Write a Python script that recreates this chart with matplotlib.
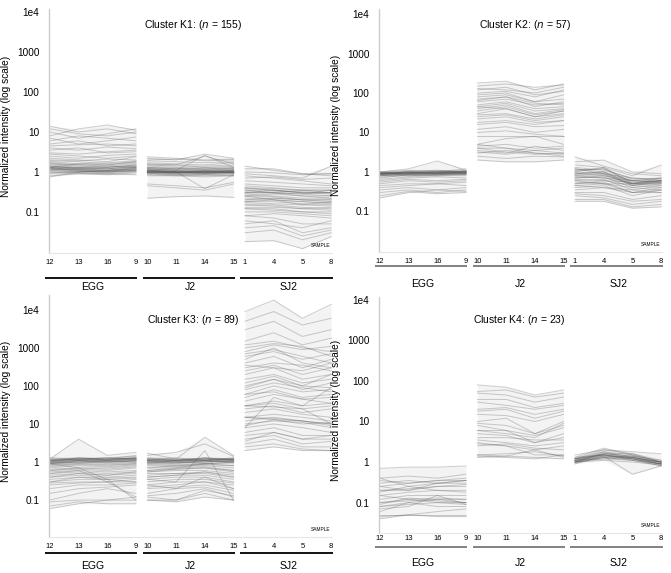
import numpy as np
import matplotlib
matplotlib.use("Agg")
import matplotlib.pyplot as plt

plt.rcParams['font.family'] = ['Liberation Sans', 'DejaVu Sans']

groups = ["EGG", "J2", "SJ2"]
sampleLabels = [["12", "13", "16", "9"], ["10", "11", "14", "15"], ["1", "4", "5", "8"]]

yTicks = [0.1, 1, 10, 100, 1000, 10000]
yTickLabels = ["0.1", "1", "10", "100", "1000", "1e4"]

clusterNames = ["K1", "K2", "K3", "K4"]
clusterSizes = [155, 57, 89, 23]

# each row: 12, 13, 16, 9 | 10, 11, 14, 15 | 1, 4, 5, 8
k1 = [
    [14, 10, 12, 9, 2.4, 2.2, 2.0, 2.1, 1.4, 1.1, 0.9, 0.8],
    [8, 12, 15, 11, 2.2, 2.0, 2.8, 2.2, 1.2, 1.2, 0.9, 0.9],
    [10, 7, 9, 12, 1.9, 1.8, 1.7, 1.8, 0.9, 0.8, 0.7, 1.4],
    [12, 9, 8, 10, 2.0, 2.1, 1.9, 2.0, 1.0, 0.95, 0.85, 0.9],
    [6, 8, 7, 6, 1.6, 1.5, 2.5, 1.6, 0.8, 0.7, 0.6, 0.5],
    [7, 5, 6, 7.5, 1.7, 1.6, 1.5, 1.7, 0.7, 0.75, 0.65, 0.7],
    [5, 6, 4.5, 5, 1.5, 1.4, 1.4, 1.5, 0.6, 0.55, 0.5, 0.45],
    [4, 3.5, 4.2, 3.8, 1.4, 1.3, 1.2, 1.3, 0.5, 0.45, 0.4, 0.4],
    [3.5, 4, 3, 3.2, 1.3, 1.2, 1.3, 1.2, 0.45, 0.4, 0.35, 0.35],
    [3, 2.8, 3.2, 3.5, 1.25, 1.2, 1.1, 1.2, 0.4, 0.38, 0.35, 0.3],
    [2.5, 2.2, 2.6, 2.8, 1.2, 1.1, 1.15, 1.1, 0.38, 0.35, 0.3, 0.3],
    [2.2, 2.0, 1.8, 2.4, 1.15, 1.1, 1.0, 1.1, 0.35, 0.33, 0.3, 0.28],
    [2.0, 1.9, 2.1, 2.0, 1.1, 1.05, 1.0, 1.05, 0.32, 0.3, 0.28, 0.25],
    [1.8, 1.6, 1.7, 1.9, 1.1, 1.0, 1.05, 1.0, 0.3, 0.3, 0.25, 0.25],
    [1.7, 1.5, 1.4, 1.6, 1.05, 1.0, 0.95, 1.0, 0.28, 0.25, 0.22, 0.22],
    [1.6, 1.4, 1.3, 1.5, 1.0, 0.95, 1.0, 1.0, 0.25, 0.24, 0.2, 0.2],
    [1.5, 1.3, 1.2, 1.4, 1.0, 1.0, 0.9, 0.95, 0.22, 0.22, 0.2, 0.18],
    [1.4, 1.2, 1.1, 1.3, 1.0, 0.95, 0.9, 1.0, 0.2, 0.2, 0.18, 0.17],
    [1.3, 1.1, 1.05, 1.2, 0.95, 0.9, 0.95, 0.95, 0.18, 0.18, 0.16, 0.15],
    [1.2, 1.05, 1.0, 1.1, 0.95, 0.9, 0.85, 0.9, 0.17, 0.16, 0.15, 0.14],
    [1.1, 1.0, 0.95, 1.05, 0.9, 0.85, 0.9, 0.9, 0.15, 0.15, 0.13, 0.12],
    [1.0, 0.95, 0.9, 1.0, 0.9, 0.85, 0.8, 0.85, 0.13, 0.13, 0.12, 0.11],
    [0.9, 0.9, 0.85, 0.95, 0.85, 0.8, 0.85, 0.8, 0.12, 0.11, 0.1, 0.1],
    [0.8, 0.9, 0.9, 0.85, 0.8, 0.8, 0.75, 0.8, 0.1, 0.1, 0.09, 0.08],
    [0.75, 1.0, 1.1, 1.2, 0.5, 0.45, 0.4, 0.55, 0.08, 0.09, 0.08, 0.07],
    [1.3, 1.6, 1.5, 1.8, 0.45, 0.4, 0.35, 0.5, 0.06, 0.05, 0.04, 0.06],
    [1.25, 1.3, 1.4, 1.3, 0.22, 0.24, 0.25, 0.23, 0.05, 0.06, 0.03, 0.04],
    [1.15, 1.2, 1.3, 1.5, 1.1, 1.0, 0.38, 0.85, 0.04, 0.045, 0.025, 0.035],
    [1.35, 1.25, 1.2, 1.35, 1.2, 1.1, 2.6, 1.3, 0.03, 0.035, 0.02, 0.03],
    [1.2, 1.15, 1.1, 1.25, 1.05, 1.0, 1.0, 1.0, 0.018, 0.019, 0.012, 0.024],
    [1.3, 1.2, 1.2, 1.3, 1.05, 1.0, 1.05, 1.05, 0.3, 0.35, 0.3, 0.3],
    [1.25, 1.15, 1.1, 1.2, 1.0, 1.0, 1.0, 1.0, 0.35, 0.3, 0.28, 0.35],
    [1.2, 1.1, 1.05, 1.15, 1.0, 0.95, 1.0, 1.0, 0.25, 0.28, 0.25, 0.22],
    [1.1, 1.05, 1.0, 1.1, 1.0, 1.0, 0.95, 1.0, 0.2, 0.22, 0.2, 0.2],
    [1.4, 1.3, 1.3, 1.4, 1.1, 1.05, 1.1, 1.05, 0.15, 0.14, 0.12, 0.13],
    [1.6, 1.5, 1.5, 1.7, 1.05, 1.0, 1.0, 1.1, 0.12, 0.12, 0.1, 0.09],
    [1.0, 1.0, 1.05, 1.1, 0.95, 0.95, 1.0, 0.95, 0.4, 0.35, 0.32, 0.3],
    [0.95, 1.0, 1.0, 1.05, 1.0, 1.0, 1.05, 1.0, 0.3, 0.3, 0.35, 0.35],
    [2.8, 2.5, 2.2, 2.5, 1.3, 1.25, 1.2, 1.25, 0.25, 0.2, 0.15, 0.18],
    [1.9, 1.8, 1.6, 1.8, 1.2, 1.15, 1.1, 1.15, 0.18, 0.2, 0.18, 0.16],
    [4.5, 4.8, 5, 4.5, 1.5, 1.5, 1.3, 1.4, 0.08, 0.07, 0.05, 0.05],
]

k2 = [
    [0.9, 1.0, 1.0, 1.1, 180, 200, 120, 170, 2.4, 1.4, 0.9, 0.8],
    [1.0, 1.2, 1.9, 1.1, 150, 170, 140, 160, 1.8, 2.0, 1.0, 0.9],
    [0.95, 1.0, 1.1, 1.0, 120, 140, 90, 110, 1.5, 1.3, 0.8, 1.5],
    [0.9, 0.95, 1.0, 1.05, 100, 110, 80, 120, 1.3, 1.1, 0.7, 0.6],
    [0.85, 0.9, 0.95, 1.0, 80, 90, 60, 70, 1.2, 1.0, 0.6, 0.7],
    [0.9, 1.0, 0.9, 0.95, 70, 80, 45, 60, 1.1, 1.2, 0.55, 0.6],
    [0.8, 0.85, 0.9, 0.9, 60, 70, 50, 55, 1.0, 0.9, 0.6, 0.55],
    [0.95, 0.9, 0.95, 1.0, 50, 60, 40, 45, 0.9, 1.0, 0.5, 0.6],
    [0.85, 0.95, 1.0, 0.9, 45, 55, 35, 40, 0.95, 0.8, 0.5, 0.5],
    [0.8, 0.9, 0.85, 0.95, 40, 50, 30, 38, 0.85, 0.9, 0.45, 0.55],
    [0.9, 0.9, 0.9, 1.0, 35, 45, 28, 35, 0.8, 0.7, 0.5, 0.45],
    [0.75, 0.8, 0.85, 0.9, 30, 40, 25, 30, 0.7, 0.75, 0.4, 0.5],
    [0.7, 0.85, 0.8, 0.85, 28, 30, 22, 28, 0.65, 0.6, 0.45, 0.4],
    [0.65, 0.75, 0.8, 0.8, 25, 28, 20, 25, 0.6, 0.65, 0.35, 0.45],
    [0.6, 0.7, 0.75, 0.7, 18, 20, 16, 20, 0.55, 0.5, 0.4, 0.35],
    [0.55, 0.65, 0.6, 0.65, 16, 18, 14, 15, 0.5, 0.55, 0.3, 0.4],
    [0.5, 0.6, 0.55, 0.6, 12, 14, 10, 12, 0.45, 0.4, 0.35, 0.3],
    [0.45, 0.5, 0.5, 0.55, 10, 11, 9, 8, 0.4, 0.45, 0.25, 0.35],
    [0.4, 0.45, 0.5, 0.45, 8, 8, 8, 8, 0.35, 0.4, 0.3, 0.3],
    [0.35, 0.4, 0.35, 0.4, 5, 7, 8, 5, 0.3, 0.3, 0.2, 0.25],
    [0.3, 0.35, 0.3, 0.35, 4.5, 5, 4, 4.5, 0.28, 0.25, 0.18, 0.2],
    [0.25, 0.32, 0.28, 0.3, 4, 4, 3.5, 3, 0.25, 0.22, 0.15, 0.18],
    [0.22, 0.3, 0.35, 0.32, 3.5, 3, 4.5, 3.5, 0.2, 0.2, 0.13, 0.15],
    [1.0, 1.1, 1.0, 1.2, 3, 3.5, 3, 2.8, 0.18, 0.18, 0.12, 0.13],
    [0.95, 1.05, 1.1, 1.0, 2.5, 2.2, 2.5, 2.4, 1.0, 1.3, 0.5, 0.7],
    [0.9, 0.95, 1.0, 0.95, 2.0, 1.8, 1.8, 2.0, 0.9, 1.0, 0.45, 0.6],
    [0.85, 1.0, 0.95, 1.0, 5, 4, 3, 2.5, 0.7, 0.8, 0.6, 0.6],
    [0.9, 0.85, 0.9, 0.9, 3.2, 2.8, 3.5, 4, 0.6, 0.5, 0.5, 0.55],
    [0.8, 0.9, 0.9, 0.85, 45, 40, 25, 35, 0.5, 0.6, 0.55, 0.5],
    [0.95, 0.9, 1.0, 1.0, 65, 80, 55, 50, 1.2, 0.9, 0.7, 0.65],
    [0.85, 0.8, 0.85, 0.9, 90, 100, 60, 90, 0.75, 0.7, 0.6, 0.55],
    [0.9, 0.95, 0.9, 0.95, 22, 25, 18, 20, 0.45, 0.5, 0.3, 0.35],
    [1.0, 0.95, 1.0, 1.05, 4, 3.2, 2.8, 3.0, 1.1, 1.2, 0.65, 0.7],
    [0.95, 1.0, 0.95, 1.0, 130, 120, 100, 140, 0.8, 0.85, 0.5, 0.6],
]

k3 = [
    [1.2, 4.0, 1.5, 1.8, 1.7, 1.2, 4.5, 1.5, 9000, 18000, 6000, 14000],
    [1.0, 1.3, 1.2, 1.5, 1.5, 1.8, 3.0, 1.4, 5000, 9000, 4000, 6000],
    [1.1, 1.2, 1.3, 1.4, 1.2, 1.1, 1.3, 1.2, 1500, 2500, 1200, 1800],
    [1.0, 1.1, 1.2, 1.2, 1.1, 1.0, 1.2, 1.1, 1200, 1500, 1000, 800],
    [0.9, 1.1, 1.0, 1.1, 1.0, 1.1, 1.1, 1.0, 800, 1200, 900, 1100],
    [1.0, 1.0, 1.1, 1.0, 1.1, 1.0, 1.0, 1.2, 600, 800, 500, 700],
    [0.95, 1.05, 1.0, 1.1, 1.0, 0.95, 1.1, 1.0, 500, 1000, 400, 300],
    [0.9, 1.0, 0.95, 1.0, 0.95, 1.0, 0.9, 1.0, 400, 600, 300, 500],
    [0.85, 0.9, 0.9, 0.95, 0.9, 0.85, 0.9, 0.9, 300, 400, 350, 250],
    [0.8, 0.9, 0.85, 0.9, 0.85, 0.8, 0.85, 0.8, 250, 350, 200, 300],
    [0.7, 0.8, 0.75, 0.85, 0.8, 0.75, 0.8, 0.7, 200, 300, 150, 200],
    [0.65, 0.7, 0.7, 0.8, 0.7, 0.7, 0.75, 0.6, 150, 200, 120, 150],
    [0.6, 0.65, 0.6, 0.7, 0.6, 0.65, 0.7, 0.55, 120, 180, 100, 90],
    [0.55, 0.6, 0.55, 0.6, 0.55, 0.6, 0.6, 0.5, 100, 150, 80, 120],
    [0.5, 0.55, 0.5, 0.55, 0.5, 0.5, 0.55, 0.45, 80, 120, 90, 70],
    [0.45, 0.5, 0.45, 0.5, 0.45, 0.5, 0.5, 0.4, 60, 100, 70, 80],
    [0.4, 0.45, 0.4, 0.45, 0.4, 0.45, 0.45, 0.35, 50, 80, 50, 60],
    [0.35, 0.4, 0.38, 0.4, 0.35, 0.4, 0.4, 0.3, 40, 60, 45, 35],
    [0.3, 0.35, 0.35, 0.38, 0.3, 0.35, 0.35, 0.28, 30, 40, 30, 35],
    [0.28, 0.3, 0.3, 0.35, 0.25, 0.3, 0.3, 0.25, 25, 30, 20, 25],
    [0.25, 0.28, 0.3, 0.3, 0.22, 0.25, 0.3, 0.2, 20, 25, 18, 15],
    [0.2, 0.25, 0.25, 0.28, 0.2, 0.22, 0.25, 0.18, 15, 18, 15, 12],
    [0.15, 0.2, 0.22, 0.25, 0.15, 0.2, 0.22, 0.15, 12, 15, 12, 10],
    [0.1, 0.15, 0.2, 0.15, 0.13, 0.15, 0.2, 0.12, 10, 12, 11, 8],
    [0.09, 0.1, 0.1, 0.1, 0.12, 0.1, 0.15, 0.1, 8, 10, 8, 6],
    [0.07, 0.09, 0.08, 0.08, 0.1, 0.09, 0.12, 0.1, 5, 6, 4, 4],
    [0.06, 0.08, 0.1, 0.12, 0.1, 0.1, 0.18, 0.13, 4, 5, 3, 3.5],
    [1.2, 1.3, 1.2, 1.3, 1.2, 1.3, 1.1, 1.3, 3, 4, 2.5, 2.5],
    [1.3, 1.2, 1.3, 1.2, 1.3, 1.2, 1.2, 1.2, 2.5, 3, 2.2, 2],
    [1.1, 1.2, 1.1, 1.3, 1.2, 1.1, 1.3, 1.1, 2, 2.5, 2, 2],
    [1.2, 1.1, 1.2, 1.2, 1.1, 1.2, 1.1, 1.2, 3.5, 6, 4, 5],
    [0.9, 0.7, 0.35, 0.1, 0.6, 0.7, 0.9, 1.0, 8, 50, 30, 90],
    [0.5, 0.6, 0.3, 0.12, 0.35, 0.3, 2.0, 0.1, 15, 14, 12, 10],
    [0.3, 0.4, 0.35, 0.3, 0.25, 0.2, 0.4, 0.2, 30, 28, 25, 10],
    [1.1, 1.2, 1.15, 1.3, 1.15, 1.1, 1.2, 1.15, 700, 900, 600, 400],
    [1.05, 1.15, 1.1, 1.2, 1.1, 1.05, 1.15, 1.1, 90, 150, 100, 200],
    [1.15, 1.25, 1.2, 1.25, 1.2, 1.15, 1.25, 1.2, 30, 35, 25, 30],
    [0.9, 0.95, 1.0, 1.05, 0.9, 0.95, 1.0, 1.05, 15, 13, 12, 9],
    [1.0, 1.1, 1.05, 1.15, 1.0, 1.05, 1.1, 1.2, 9, 13, 10, 11],
    [0.75, 0.85, 0.8, 0.9, 0.7, 0.8, 0.9, 0.8, 6, 8, 5, 5],
    [1.1, 1.15, 1.1, 1.2, 1.05, 1.1, 1.0, 1.1, 3000, 5000, 2000, 3000],
    [0.95, 1.0, 1.05, 1.1, 1.0, 0.9, 1.05, 1.0, 1000, 1300, 1100, 600],
    [0.6, 0.7, 0.65, 0.75, 0.55, 0.65, 0.7, 0.6, 350, 300, 250, 400],
    [0.4, 0.5, 0.45, 0.55, 0.4, 0.45, 0.55, 0.4, 60, 70, 45, 50],
]

k4 = [
    [0.7, 0.75, 0.75, 0.8, 80, 70, 45, 60, 1.5, 2.0, 1.8, 1.6],
    [0.4, 0.45, 0.4, 0.5, 55, 60, 40, 50, 1.2, 1.5, 1.2, 1.0],
    [0.35, 0.3, 0.35, 0.4, 50, 45, 30, 40, 1.1, 1.4, 1.3, 1.0],
    [0.4, 0.25, 0.3, 0.35, 35, 35, 22, 28, 1.0, 1.5, 1.1, 0.9],
    [0.3, 0.35, 0.3, 0.3, 30, 25, 20, 25, 1.2, 1.6, 1.4, 1.1],
    [0.25, 0.2, 0.25, 0.28, 18, 20, 12, 18, 1.1, 1.3, 1.2, 0.9],
    [0.2, 0.22, 0.25, 0.25, 15, 14, 10, 15, 1.0, 1.2, 1.3, 1.0],
    [0.18, 0.25, 0.2, 0.2, 9, 8, 5, 8, 1.3, 2.2, 1.5, 1.0],
    [0.15, 0.18, 0.2, 0.18, 8, 6, 4.5, 7, 1.2, 1.8, 1.3, 0.9],
    [0.12, 0.15, 0.15, 0.15, 6, 5, 4, 9, 1.0, 1.6, 1.4, 0.85],
    [0.1, 0.12, 0.13, 0.12, 5, 4.5, 3, 4, 0.9, 1.4, 0.5, 0.8],
    [0.09, 0.13, 0.11, 0.1, 4, 4, 3.5, 3.5, 1.1, 1.5, 1.2, 0.9],
    [0.08, 0.1, 0.12, 0.1, 3.5, 3, 2.5, 3, 1.0, 1.3, 1.1, 0.8],
    [0.08, 0.09, 0.1, 0.09, 3, 2.5, 2, 2.5, 1.2, 2.0, 1.6, 1.1],
    [0.07, 0.08, 0.15, 0.09, 2.5, 2.8, 2.2, 2, 1.1, 1.8, 1.5, 1.0],
    [0.06, 0.1, 0.08, 0.08, 1.5, 1.6, 1.8, 1.4, 1.0, 1.4, 1.2, 0.9],
    [0.05, 0.05, 0.05, 0.05, 1.4, 1.3, 1.2, 1.5, 1.2, 1.5, 1.3, 1.0],
    [0.04, 0.05, 0.06, 0.07, 1.3, 1.4, 1.3, 1.2, 0.95, 1.3, 1.4, 1.0],
    [0.045, 0.05, 0.045, 0.045, 1.5, 1.4, 2.0, 1.3, 1.1, 1.2, 1.1, 0.9],
    [0.2, 0.2, 0.3, 0.35, 10, 12, 5, 10, 1.0, 1.7, 1.2, 0.8],
    [0.25, 0.3, 0.35, 0.35, 6, 6, 3, 5, 1.3, 1.5, 1.3, 0.95],
    [0.1, 0.11, 0.12, 0.12, 2.8, 2.5, 1.5, 1.5, 1.0, 1.1, 1.0, 0.85],
    [0.15, 0.12, 0.1, 0.1, 20, 22, 15, 20, 1.1, 1.6, 1.6, 1.0],
]

# x positions of the samples, groups separated by a small gap
GAP = 0.4
groupX = [np.arange(4) + g * (3 + GAP) for g in range(3)]

FIG_W, FIG_H = 671, 573


def pixelBox(left, right, top, bottom):
    return [left / FIG_W, 1 - bottom / FIG_H, (right - left) / FIG_W, (bottom - top) / FIG_H]


def drawPanel(ax, rows, name, n, ylog, titlePos, tickY, lineY, labelY, lineColor):
    data = np.array(rows, dtype=float)

    for g in range(3):
        seg = data[:, g * 4:(g + 1) * 4]
        x = groupX[g]
        ax.fill_between(x, seg.min(axis=0), seg.max(axis=0), color="#f3f3f3", lw=0, zorder=0)
        for r in seg:
            ax.plot(x, r, color="#5a5a5a", alpha=0.3, lw=0.7, zorder=2)

        for i, lab in enumerate(sampleLabels[g]):
            ax.text(x[i], tickY, lab, transform=ax.get_xaxis_transform(),
                    ha="center", va="center", fontsize=5.5)
        ax.plot([x[0] - 0.17, x[-1] + 0.05], [lineY, lineY], color=lineColor, lw=1.3,
                transform=ax.get_xaxis_transform(), clip_on=False, solid_capstyle="butt")
        ax.text((x[0] + x[-1]) / 2, labelY, groups[g], transform=ax.get_xaxis_transform(),
                ha="center", va="center", fontsize=7.5)

    ax.set_yscale("log")
    ax.set_ylim(10 ** ylog[0], 10 ** ylog[1])
    ax.set_xlim(-0.03, groupX[2][-1] + 0.03)
    ax.set_yticks(yTicks)
    ax.set_yticklabels(yTickLabels)
    ax.minorticks_off()
    ax.set_xticks([])
    ax.tick_params(axis="y", length=0, pad=7, labelsize=7.2)
    ax.set_ylabel("Normalized intensity (log scale)", fontsize=7.3)
    ax.yaxis.set_label_coords(-0.135, 0.52)

    for s in ["top", "right"]:
        ax.spines[s].set_visible(False)
    ax.spines["left"].set_color("#cccccc")
    ax.spines["left"].set_linewidth(1.0)
    ax.spines["bottom"].set_color("#e6e6e6")
    ax.spines["bottom"].set_linewidth(0.8)

    ax.text(titlePos[0], titlePos[1], "Cluster %s: ($\\it{n}$ = %d)" % (name, n),
            transform=ax.transAxes, ha="center", va="center", fontsize=7.5)
    ax.text(0.995, 0.02, "SAMPLE", transform=ax.transAxes, ha="right", va="bottom",
            fontsize=3.5)


if __name__ == "__main__":
    fig = plt.figure(figsize=(FIG_W / 100, FIG_H / 100), dpi=100)

    ax1 = fig.add_axes(pixelBox(49, 332, 9, 253))
    ax2 = fig.add_axes(pixelBox(379, 662, 9, 252))
    ax3 = fig.add_axes(pixelBox(49, 332, 295, 537))
    ax4 = fig.add_axes(pixelBox(379, 662, 297, 533))

    drawPanel(ax1, k1, clusterNames[0], clusterSizes[0], (-2.03, 4.08), (0.51, 0.934),
              -0.037, -0.102, -0.139, "black")
    drawPanel(ax2, k2, clusterNames[1], clusterSizes[1], (-2.03, 4.13), (0.516, 0.934),
              -0.041, -0.058, -0.132, "#777777")
    drawPanel(ax3, k3, clusterNames[2], clusterSizes[2], (-1.97, 4.39), (0.51, 0.897),
              -0.041, -0.068, -0.118, "black")
    drawPanel(ax4, k4, clusterNames[3], clusterSizes[3], (-1.75, 4.07), (0.495, 0.903),
              -0.025, -0.059, -0.125, "#777777")

    fig.savefig("out.png", dpi=100)
